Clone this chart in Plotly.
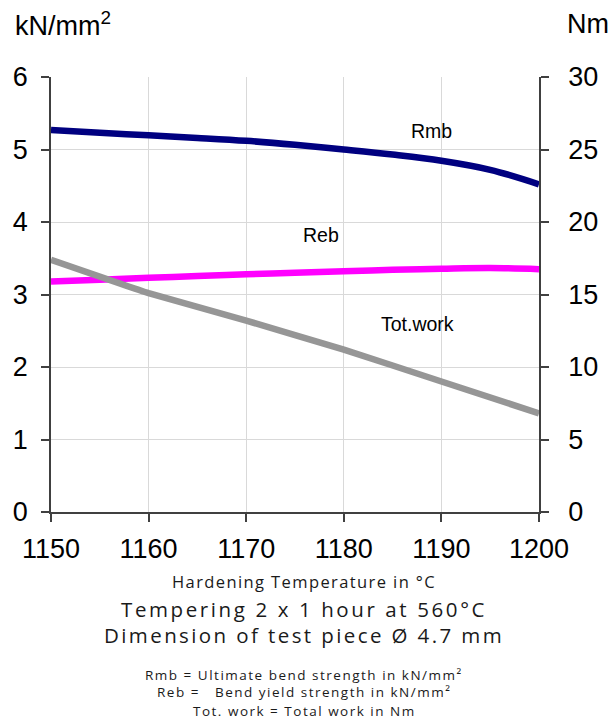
import plotly.graph_objects as go

temps = [1150, 1155, 1160, 1165, 1170, 1175, 1180, 1185, 1190, 1195, 1200]
rmb = [5.27, 5.23, 5.195, 5.16, 5.12, 5.065, 5.00, 4.93, 4.845, 4.72, 4.52]
reb = [3.18, 3.205, 3.23, 3.255, 3.28, 3.30, 3.32, 3.34, 3.355, 3.365, 3.35]
work_temps = [1150, 1160, 1170, 1180, 1190, 1200]
tot_work = [17.4, 15.1, 13.2, 11.2, 9.0, 6.8]

x_ticks = [1150, 1160, 1170, 1180, 1190, 1200]
y_ticks = [0, 1, 2, 3, 4, 5, 6]
y2_ticks = [0, 5, 10, 15, 20, 25, 30]

TICKFONT = dict(family="Liberation Sans, Arial", size=27, color="#000")
TXT = "Liberation Sans, Arial"
BOT = "Open Sans, Montserrat, sans-serif"

fig = go.Figure()
fig.add_trace(go.Scatter(x=temps, y=rmb, mode="lines", line=dict(color="#000080", width=6.5, shape="spline", smoothing=1.0), name="Rmb"))
fig.add_trace(go.Scatter(x=temps, y=reb, mode="lines", line=dict(color="#FF00FF", width=6.5, shape="spline", smoothing=1.0), name="Reb"))
fig.add_trace(go.Scatter(x=work_temps, y=tot_work, mode="lines", yaxis="y2", line=dict(color="#969696", width=6.5, shape="spline", smoothing=0.3), name="Tot.work"))

L, R, T, B = 51, 75, 77, 208
W, H = 614, 720
pw, ph = W - L - R, H - T - B

def px(x):
    return (x - L) / pw

def py(y):
    return (H - B - y) / ph

ann = []
ann.append(dict(x=1189, y=5.26, xref="x", yref="y", text="Rmb", showarrow=False, font=dict(family=TXT, size=19.5, color="#000")))
ann.append(dict(x=1177.7, y=3.82, xref="x", yref="y", text="Reb", showarrow=False, font=dict(family=TXT, size=19.5, color="#000")))
ann.append(dict(x=1187.5, y=2.59, xref="x", yref="y", text="Tot.work", showarrow=False, font=dict(family=TXT, size=19.5, color="#000")))
ann.append(dict(x=px(13), y=py(24), xref="paper", yref="paper", xanchor="left", yanchor="middle", text="kN/mm<sup>2</sup>", showarrow=False, font=TICKFONT))
ann.append(dict(x=px(611), y=py(24), xref="paper", yref="paper", xanchor="right", yanchor="middle", text="Nm", showarrow=False, font=TICKFONT))

bottom = [
    ("Hardening Temperature in °C", 581, 16.5, "1.4px"),
    ("Tempering 2 x 1 hour at 560°C", 609, 20.5, "2.6px"),
    ("Dimension of test piece Ø 4.7 mm", 635, 20.5, "2.4px"),
    ("Rmb = Ultimate bend strength in kN/mm²", 675, 13.5, "1.5px"),
    ("Reb =   Bend yield strength in kN/mm²", 692, 13.5, "1.5px"),
    ("Tot. work = Total work in Nm", 711, 13.5, "1.5px"),
]
for text, y, s, ls in bottom:
    ann.append(dict(x=px(304), y=py(y), xref="paper", yref="paper", xanchor="center", yanchor="middle",
                    text=f'<span style="letter-spacing:{ls}">{text}</span>', showarrow=False,
                    font=dict(family=BOT, size=s, color="#1a1a1a")))

axis_common = dict(showline=True, linecolor="#404040", linewidth=1.5, ticks="outside", ticklen=8,
                   tickcolor="#404040", tickwidth=1.5, tickfont=TICKFONT, zeroline=False, automargin=False)

fig.update_layout(
    width=W, height=H,
    margin=dict(l=L, r=R, t=T, b=B, pad=0),
    paper_bgcolor="white", plot_bgcolor="white",
    showlegend=False,
    xaxis=dict(range=[1150, 1200], tickvals=x_ticks, ticktext=[str(v) for v in x_ticks],
               showgrid=True, gridcolor="#d9d9d9", gridwidth=1.2, ticklabelstandoff=4, **axis_common),
    yaxis=dict(range=[0, 6], tickvals=y_ticks, showgrid=True, gridcolor="#d9d9d9", gridwidth=1.2,
               ticklabelstandoff=8, **axis_common),
    yaxis2=dict(range=[0, 30], tickvals=y2_ticks, overlaying="y", side="right", showgrid=False,
                ticklabelstandoff=14, **axis_common),
    annotations=ann,
)

fig.write_html("out.html")
